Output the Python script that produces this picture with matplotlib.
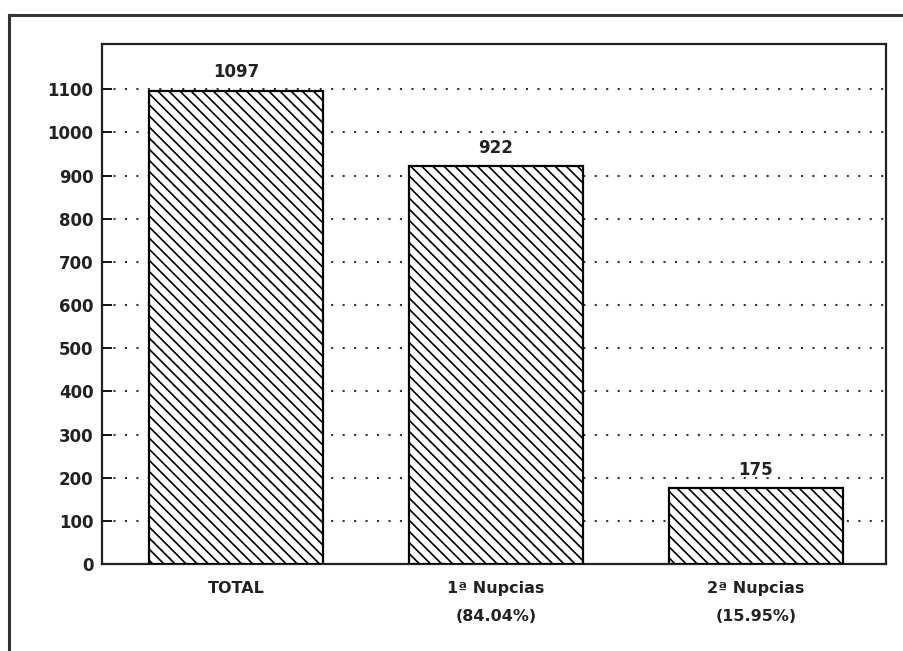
import matplotlib.pyplot as plt
from matplotlib.lines import Line2D

# datos
categorias = ["TOTAL", "1ª Nupcias\n(84.04%)", "2ª Nupcias\n(15.95%)"]
valores = [1097, 922, 175]
yticks = [0, 100, 200, 300, 400, 500, 600, 700, 800, 900, 1000, 1100]

plt.rcParams['font.family'] = ['DejaVu Sans']
plt.rcParams['hatch.linewidth'] = 1.2

fig = plt.figure(figsize=(9.04, 6.51), dpi=100)
ax = fig.add_axes([102/904, 1 - 564/651, (886-102)/904, (564-44)/651])

pos = range(len(categorias))
bars = ax.bar(pos, valores, width=0.67, color="white", edgecolor="black",
              linewidth=1.6, hatch="\\\\\\", zorder=3)

for x, v in zip(pos, valores):
    ax.text(x, v + 22, str(v), ha="center", va="bottom",
            fontsize=12, fontweight="bold", color="#222222")

ax.set_xlim(-0.515, 2.5)
ax.set_ylim(0, 1205)
ax.set_yticks(yticks)
ax.set_yticklabels([str(t) for t in yticks], fontsize=12, fontweight="bold", color="#222222")
ax.set_xticks(list(pos))
ax.set_xticklabels(categorias, fontsize=11.5, fontweight="bold", color="#222222",
                   linespacing=2.1)
ax.tick_params(axis="y", direction="in", length=7, width=1.3, pad=6)
ax.tick_params(axis="x", length=0, pad=12)
ax.yaxis.grid(True, linestyle=(0, (1, 4.5)), linewidth=1.5, color="#333333", zorder=1)
ax.set_axisbelow(True)
for s in ax.spines.values():
    s.set_linewidth(1.6)
    s.set_color("#222222")

# marco exterior
fig.add_artist(Line2D([9/904, 1.0], [1 - 15/651, 1 - 15/651], color="#333333", linewidth=2.2))
fig.add_artist(Line2D([9/904, 9/904], [0.0, 1 - 15/651], color="#333333", linewidth=2.2))

fig.savefig("out.png", dpi=100)
